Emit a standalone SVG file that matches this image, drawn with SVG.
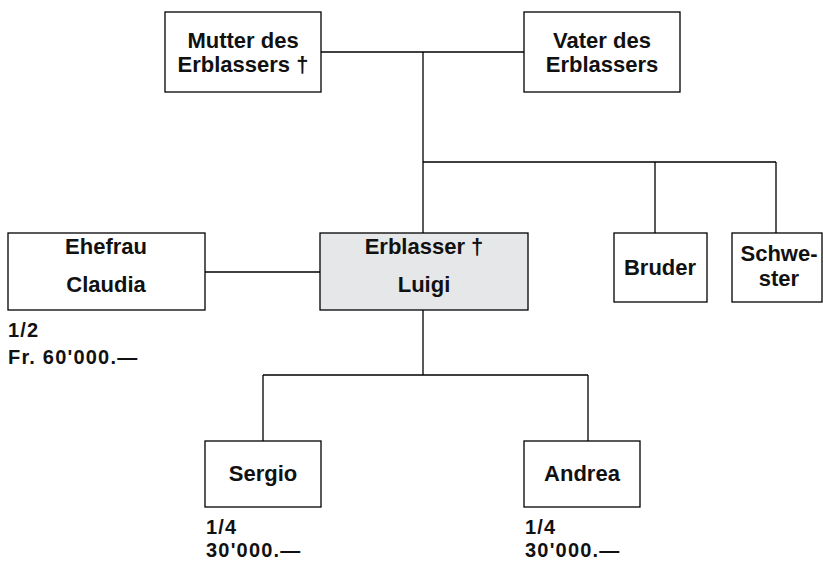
<svg xmlns="http://www.w3.org/2000/svg" width="823" height="562" viewBox="0 0 823 562">
  <style>
    .box { fill: #ffffff; stroke: #000000; stroke-width: 1.3; }
    .deceased { fill: #e6e7e8; }
    .lbl { font-family: "Liberation Sans", Arial, sans-serif; font-weight: bold; font-size: 22px; fill: #111111; text-anchor: middle; }
    .share { font-family: "Liberation Sans", Arial, sans-serif; font-weight: bold; font-size: 20px; letter-spacing: 1.2px; fill: #111111; }
    .conn { fill: none; stroke: #000000; stroke-width: 1.3; }
  </style>
  <rect width="823" height="562" fill="#ffffff"/>

  <!-- connectors -->
  <g id="connectors" class="conn">
    <path d="M321 52 H524"/>
    <path d="M423 52 V233"/>
    <path d="M423 162 H776 M655 162 V233 M776 162 V233"/>
    <path d="M205 272 H320"/>
    <path d="M423 310 V375 M263 375 H588 M263 375 V441 M588 375 V441"/>
  </g>

  <g id="mutter">
    <rect class="box" x="165" y="12" width="156" height="80"/>
    <text class="lbl" x="243" y="48">Mutter des</text>
    <text class="lbl" x="243" y="72">Erblassers †</text>
  </g>

  <g id="vater">
    <rect class="box" x="524" y="12" width="156" height="80"/>
    <text class="lbl" x="602" y="48">Vater des</text>
    <text class="lbl" x="602" y="72">Erblassers</text>
  </g>

  <g id="ehefrau">
    <rect class="box" x="8" y="233" width="197" height="77"/>
    <text class="lbl" x="106" y="254">Ehefrau</text>
    <text class="lbl" x="106" y="292">Claudia</text>
    <text class="share" x="8" y="337">1/2</text>
    <text class="share" x="8" y="364">Fr. 60'000.—</text>
  </g>

  <g id="erblasser">
    <rect class="box deceased" x="320" y="233" width="208" height="77"/>
    <text class="lbl" x="424" y="254">Erblasser †</text>
    <text class="lbl" x="424" y="292">Luigi</text>
  </g>

  <g id="bruder">
    <rect class="box" x="614" y="233" width="93" height="69"/>
    <text class="lbl" x="660" y="275">Bruder</text>
  </g>

  <g id="schwester">
    <rect class="box" x="732" y="233" width="90" height="69"/>
    <text class="lbl" x="779" y="261">Schwe-</text>
    <text class="lbl" x="779" y="286">ster</text>
  </g>

  <g id="sergio">
    <rect class="box" x="205" y="441" width="116" height="66"/>
    <text class="lbl" x="263" y="481">Sergio</text>
    <text class="share" x="206" y="534">1/4</text>
    <text class="share" x="206" y="557">30'000.—</text>
  </g>

  <g id="andrea">
    <rect class="box" x="524" y="441" width="116" height="66"/>
    <text class="lbl" x="582" y="481">Andrea</text>
    <text class="share" x="525" y="534">1/4</text>
    <text class="share" x="525" y="557">30'000.—</text>
  </g>
</svg>
